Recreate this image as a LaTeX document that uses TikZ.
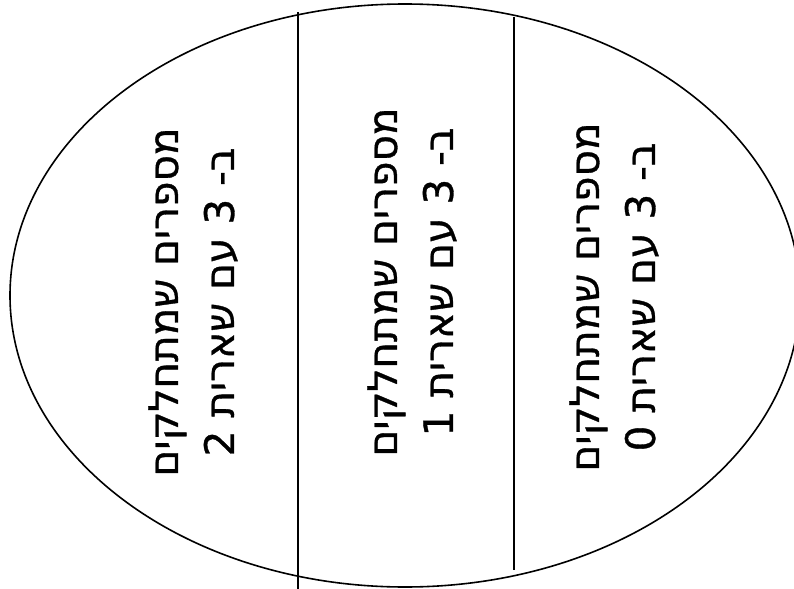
\documentclass[tikz,border=0pt]{standalone}
\usepackage{fontspec}
\newfontfamily\hebfont[Script=Hebrew, FakeBold=0.8]{DejaVu Sans}
\TeXXeTstate=1
\usetikzlibrary{positioning}

\begin{document}
\begin{tikzpicture}[x=0.75pt, y=-0.75pt,
  set/.style={draw, line width=1.2pt},
  divider/.style={draw, line width=0.9pt},
  remclass/.style={rotate=90, align=center, font=\hebfont\fontsize{30.5}{42}\selectfont,
                   inner sep=0pt}
]
\useasboundingbox (0,0) rectangle (794,589);
% the whole set of integers
\draw[set] (405,295.5) ellipse [x radius=395, y radius=291.5];
% borders between the classes
\coordinate (d1top) at (298,12);
\coordinate (d1bot) at (298,589);
\coordinate (d2top) at (514,17);
\coordinate (d2bot) at (514,570);
\draw[divider] (d1top) -- (d1bot);
\draw[divider] (d2top) -- (d2bot);
% the three remainder classes
\node[remclass] (rem2) at (193,302) {\beginR מספרים שמתחלקים\endR\\\beginR ב- 3 עם שארית 2\endR};
\node[remclass] (rem1) at (412,282) {\beginR מספרים שמתחלקים\endR\\\beginR ב- 3 עם שארית 1\endR};
\node[remclass] (rem0) at (614,297) {\beginR מספרים שמתחלקים\endR\\\beginR ב- 3 עם שארית 0\endR};
\end{tikzpicture}
\end{document}
